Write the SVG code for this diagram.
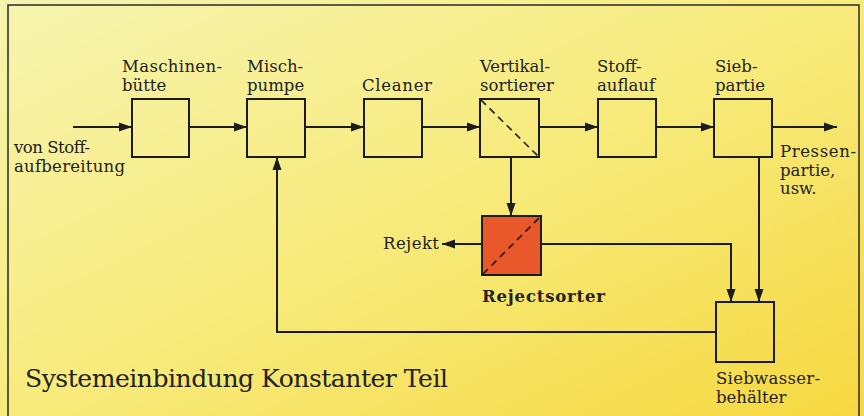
<svg xmlns="http://www.w3.org/2000/svg" width="864" height="416" viewBox="0 0 864 416">
<defs>
<linearGradient id="bg" x1="0" y1="0" x2="1" y2="1">
<stop offset="0" stop-color="#f6f4b0"/>
<stop offset="0.5" stop-color="#f7eb7c"/>
<stop offset="1" stop-color="#f6d840"/>
</linearGradient>
<marker id="ah" markerUnits="userSpaceOnUse" markerWidth="14" markerHeight="10" refX="13" refY="5" orient="auto">
<path d="M0,0.5 L13,5 L0,9.5 Z" fill="#1c1c1c"/>
</marker>
<style>
.box{fill:none;stroke:#1c1c1c;stroke-width:2}
.arr{fill:none;stroke:#1c1c1c;stroke-width:2;marker-end:url(#ah)}
.dash{fill:none;stroke:#1c1c1c;stroke-width:1.6;stroke-dasharray:7,5}
text{font-family:"DejaVu Serif","Liberation Serif",serif;font-size:16.5px;fill:#222}
.title{font-size:25px}
.bold{font-weight:bold}
</style>
</defs>
<rect x="0" y="0" width="864" height="416" fill="url(#bg)"/>
<path d="M8,420 L8,5 L859,5 L859,420" fill="none" stroke="#2a2a2a" stroke-width="1.5"/>

<g id="connectors">
<line class="arr" x1="73" y1="127" x2="132" y2="127"/>
<line class="arr" x1="189" y1="127" x2="247" y2="127"/>
<line class="arr" x1="305" y1="127" x2="364" y2="127"/>
<line class="arr" x1="422" y1="127" x2="480" y2="127"/>
<line class="arr" x1="539" y1="127" x2="598" y2="127"/>
<line class="arr" x1="656" y1="127" x2="714" y2="127"/>
<line class="arr" x1="772" y1="127" x2="837" y2="127"/>
<line class="arr" x1="511" y1="157" x2="511" y2="216"/>
<line class="arr" x1="482" y1="244" x2="442" y2="244"/>
<polyline class="arr" points="541,244 731,244 731,302"/>
<line class="arr" x1="759" y1="157" x2="759" y2="302"/>
<polyline class="arr" points="716,332 277,332 277,157"/>
</g>

<g id="input-label">
<text x="14" y="153" textLength="76">von Stoff-</text>
<text x="14" y="172" textLength="111">aufbereitung</text>
</g>

<g id="maschinenbuette">
<rect class="box" x="132" y="99" width="57" height="58"/>
<text x="122" y="72" textLength="100">Maschinen-</text>
<text x="122" y="91">bütte</text>
</g>

<g id="mischpumpe">
<rect class="box" x="247" y="99" width="58" height="58"/>
<text x="247" y="72">Misch-</text>
<text x="247" y="91">pumpe</text>
</g>

<g id="cleaner">
<rect class="box" x="364" y="99" width="58" height="58"/>
<text x="362" y="91" textLength="70">Cleaner</text>
</g>

<g id="vertikalsortierer">
<rect class="box" x="480" y="99" width="59" height="58"/>
<line class="dash" x1="481" y1="100" x2="538" y2="156"/>
<text x="480" y="72" textLength="70">Vertikal-</text>
<text x="480" y="91" textLength="74">sortierer</text>
</g>

<g id="stoffauflauf">
<rect class="box" x="598" y="99" width="58" height="58"/>
<text x="597" y="72">Stoff-</text>
<text x="597" y="91">auflauf</text>
</g>

<g id="siebpartie">
<rect class="box" x="714" y="99" width="58" height="58"/>
<text x="715" y="72">Sieb-</text>
<text x="715" y="91">partie</text>
</g>

<g id="output-label">
<text x="780" y="157" textLength="76">Pressen-</text>
<text x="780" y="176">partie,</text>
<text x="780" y="194">usw.</text>
</g>

<g id="rejectsorter">
<rect x="482" y="216" width="59" height="59" fill="#e8582b" stroke="#1c1c1c" stroke-width="2"/>
<line class="dash" x1="483" y1="274" x2="540" y2="217"/>
<text class="bold" x="482" y="302" textLength="123">Rejectsorter</text>
</g>

<g id="rejekt">
<text x="383" y="249" textLength="56">Rejekt</text>
</g>

<g id="siebwasserbehaelter">
<rect class="box" x="716" y="302" width="58" height="60"/>
<text x="716" y="384" textLength="104">Siebwasser-</text>
<text x="716" y="403">behälter</text>
</g>

<g id="title">
<text class="title" x="25" y="387" textLength="423">Systemeinbindung Konstanter Teil</text>
</g>
</svg>
